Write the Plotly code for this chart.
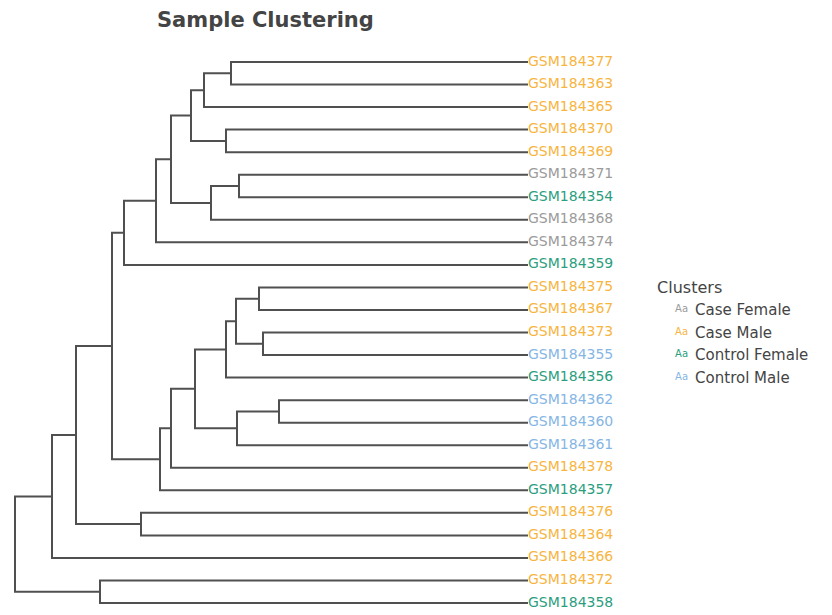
import plotly.graph_objects as go

# Leaf order (top to bottom) and sample group of each leaf
leaves = [
    "GSM184377", "GSM184363", "GSM184365", "GSM184370", "GSM184369",
    "GSM184371", "GSM184354", "GSM184368", "GSM184374", "GSM184359",
    "GSM184375", "GSM184367", "GSM184373", "GSM184355", "GSM184356",
    "GSM184362", "GSM184360", "GSM184361", "GSM184378", "GSM184357",
    "GSM184376", "GSM184364", "GSM184366", "GSM184372", "GSM184358",
]
leaf_groups = [
    "Case Male", "Case Male", "Case Male", "Case Male", "Case Male",
    "Case Female", "Control Female", "Case Female", "Case Female", "Control Female",
    "Case Male", "Case Male", "Case Male", "Control Male", "Control Female",
    "Control Male", "Control Male", "Control Male", "Case Male", "Control Female",
    "Case Male", "Case Male", "Case Male", "Case Male", "Control Female",
]

# Agglomerative merges: children are leaf names or earlier merge ids "N<k>"
merge_left = [
    "GSM184377", "N0", "GSM184370", "N1", "GSM184371", "N4", "N3", "N6", "N7",
    "GSM184375", "GSM184373", "N9", "N11", "GSM184362", "N13", "N12", "N15", "N16",
    "N8", "GSM184376", "N18", "N20", "GSM184372", "N21",
]
merge_right = [
    "GSM184363", "GSM184365", "GSM184369", "N2", "GSM184354", "GSM184368", "N5",
    "GSM184374", "GSM184359",
    "GSM184367", "GSM184355", "N10", "GSM184356", "GSM184360", "GSM184361", "N14",
    "GSM184378", "GSM184357",
    "N17", "GSM184364", "N19", "GSM184366", "GSM184358", "N22",
]
merge_height = [
    29.7, 32.4, 30.2, 33.7, 28.9, 31.7, 35.7, 37.2, 40.4,
    26.9, 26.5, 29.2, 30.2, 24.9, 29.1, 33.3, 35.7, 36.8,
    41.6, 38.7, 45.2, 47.6, 42.8, 51.3,
]

group_names = ["Case Female", "Case Male", "Control Female", "Control Male"]
group_colors = ["#9b9b9b", "#f7b53f", "#2b9e80", "#86b6e4"]

# Position of every node: (height, vertical position)
pos = {name: (0.0, float(i)) for i, name in enumerate(leaves)}
seg_x, seg_y = [], []
for k, (a, b, h) in enumerate(zip(merge_left, merge_right, merge_height)):
    ha, ya = pos[a]
    hb, yb = pos[b]
    seg_x += [ha, h, h, hb, None]
    seg_y += [ya, ya, yb, yb, None]
    pos[f"N{k}"] = (h, (ya + yb) / 2)

fig = go.Figure()
fig.add_trace(go.Scatter(
    x=seg_x, y=seg_y, mode="lines",
    line=dict(color="#505050", width=2),
    hoverinfo="skip", showlegend=False,
))

for name, color in zip(group_names, group_colors):
    idx = [i for i, g in enumerate(leaf_groups) if g == name]
    fig.add_trace(go.Scatter(
        x=[0.0] * len(idx), y=idx,
        text=[leaves[i] for i in idx],
        mode="text", textposition="middle right",
        textfont=dict(color=color, size=14, family="DejaVu Sans"),
        name=name, cliponaxis=False,
    ))

fig.update_layout(
    width=832, height=615,
    margin=dict(l=5, r=304, t=20, b=5),
    paper_bgcolor="white", plot_bgcolor="white",
    title=dict(
        text="Sample Clustering",
        x=157 / 832, xref="container", xanchor="left",
        y=1 - 20 / 615, yref="container", yanchor="middle",
        font=dict(size=21, color="#444444", family="DejaVu Sans", weight="bold"),
    ),
    xaxis=dict(range=[52.3, 0], visible=False, showgrid=False, zeroline=False),
    yaxis=dict(range=[24.31, -1.863], visible=False, showgrid=False, zeroline=False),
    legend=dict(
        title=dict(text="Clusters", font=dict(size=16, color="#444444")),
        x=1.243, xanchor="left", y=0.572, yanchor="top",
        font=dict(size=15, color="#444444", family="DejaVu Sans"),
        tracegroupgap=0, itemsizing="constant", itemwidth=30,
    ),
    font=dict(family="DejaVu Sans"),
)

fig.write_html("out.html")
